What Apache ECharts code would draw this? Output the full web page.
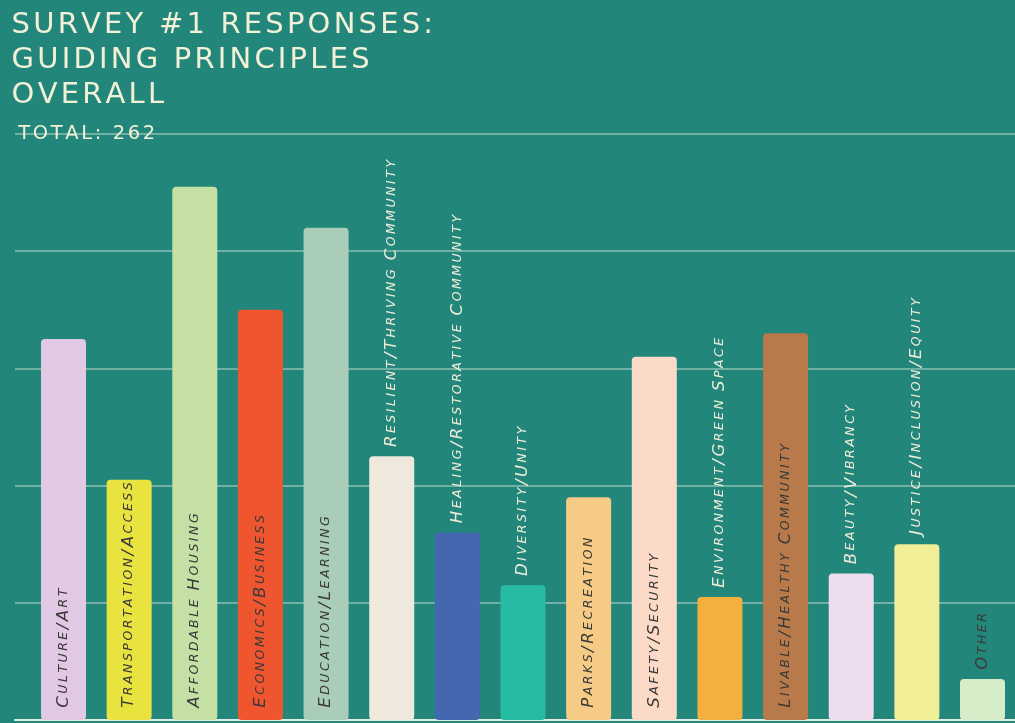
<!DOCTYPE html>
<html>
<head>
<meta charset="utf-8">
<script src="https://cdn.jsdelivr.net/npm/echarts@6/dist/echarts.min.js"></script>
<style>
  html, body { margin: 0; padding: 0; background: #22877a; }
  #chart { width: 1015px; height: 723px; }
</style>
</head>
<body>
<div id="chart"></div>
<script>
    // principles, left to right
    const categories = ['Culture/Art', 'Transportation/Access', 'Affordable Housing', 'Economics/Business',
        'Education/Learning', 'Resilient/Thriving Community', 'Healing/Restorative Community', 'Diversity/Unity',
        'Parks/Recreation', 'Safety/Security', 'Environment/Green Space', 'Livable/Healthy Community',
        'Beauty/Vibrancy', 'Justice/Inclusion/Equity', 'Other'];
    const responses = [65, 41, 91, 70, 84, 45, 32, 23, 38, 62, 21, 66, 25, 30, 7];
    const yMax = 100;
    const yStep = 20;

    const barColors = ['#e2c9e3', '#e8e33f', '#c4e0a4', '#ef5630', '#a9cdb9', '#efe8dc', '#4468b0', '#27bba3',
        '#f6cb85', '#fcdac8', '#f4b03e', '#b87a4b', '#eeddee', '#f0ee96', '#d6edc9'];
    // where the rotated name goes: in = inside the bar, up = above the bar
    const labelPlace = ['in', 'in', 'in', 'in', 'in', 'up', 'up', 'up', 'in', 'in', 'up', 'in', 'up', 'up', 'upDark'];

    // every char its own token so padding works as letter spacing
    function spaced(text, styleOf) {
        let out = '';
        let start = true;
        for (const ch of text) {
            let st = styleOf(ch, start);
            out += '{' + st + '|' + (ch === ' ' ? '\u00a0' : ch) + '}';
            start = (ch === ' ' || ch === '/');
        }
        return out;
    }

    // fake small caps: first letter of each word big, rest small
    function smallCaps(name) {
        return spaced(name.toUpperCase(), (ch, start) => (start || ch === '/') ? 'b' : 's');
    }

    function labelFor(i) {
        const place = labelPlace[i];
        const color = place === 'up' ? '#eeecd9' : '#3a3a38';
        const base = { fontFamily: 'DejaVu Sans', fontStyle: 'italic', color: color, padding: [0, 1.25] };
        return {
            show: true,
            rotate: 90,
            position: place === 'in' ? 'insideBottom' : 'top',
            distance: place === 'in' ? 11 : 8,
            align: 'left',
            verticalAlign: 'middle',
            formatter: () => smallCaps(categories[i]),
            rich: {
                b: Object.assign({ fontSize: 16.5 }, base),
                s: Object.assign({ fontSize: 12.5 }, base)
            }
        };
    }

    const titleStyle = { fontFamily: 'DejaVu Sans', fontWeight: 'normal', color: '#f3f0d8' };

    let myChart = echarts.init(document.getElementById('chart'));
    let option = {
        backgroundColor: '#22877a',
        animation: false,
        title: [{
            text: ['SURVEY #1 RESPONSES:', 'GUIDING PRINCIPLES', 'OVERALL'].map(l => spaced(l, () => 't')).join('\n'),
            left: 5,
            top: 3,
            textStyle: {
                fontWeight: 'normal',
                lineHeight: 35,
                rich: { t: Object.assign({ fontSize: 29, lineHeight: 35, padding: [0, 1.6] }, titleStyle) }
            }
        }, {
            text: spaced('TOTAL: 262', () => 't'),
            left: 12,
            top: 119,
            textStyle: {
                fontWeight: 'normal',
                rich: { t: Object.assign({ fontSize: 19.5, padding: [0, 1.3] }, titleStyle) }
            }
        }],
        grid: {
            left: 15,
            right: 0,
            top: 134,
            bottom: 3
        },
        xAxis: {
            type: 'value',
            min: -0.739,
            max: 14.495,
            axisLine: {
                show: true,
                lineStyle: { color: '#e4eee6', width: 2 }
            },
            axisTick: { show: false },
            axisLabel: { show: false },
            splitLine: { show: false }
        },
        yAxis: {
            type: 'value',
            min: 0,
            max: yMax,
            interval: yStep,
            axisLine: { show: false },
            axisTick: { show: false },
            axisLabel: { show: false },
            splitLine: {
                lineStyle: { color: 'rgba(225,238,228,0.55)', width: 1.5 }
            }
        },
        series: [{
            type: 'bar',
            barWidth: 45,
            data: categories.map((c, i) => ({
                value: [i, responses[i]],
                itemStyle: { color: barColors[i], borderRadius: 4 },
                label: labelFor(i)
            }))
        }]
    };
    myChart.setOption(option, true);
</script>
</body>
</html>
